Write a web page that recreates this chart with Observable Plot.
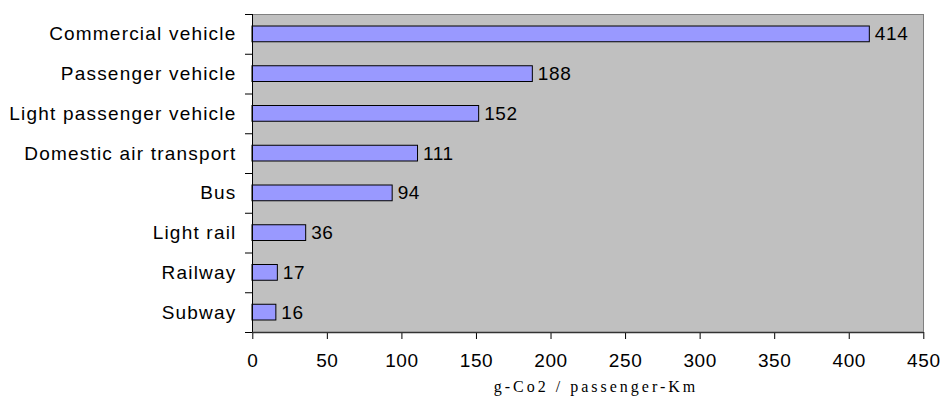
<!DOCTYPE html>
<html>
<head>
<meta charset="utf-8">
<script src="https://cdn.jsdelivr.net/npm/d3@7"></script>
<script src="https://cdn.jsdelivr.net/npm/@observablehq/plot@0.6"></script>
<style>
  html, body { margin: 0; padding: 0; background: #fff; }
  #chart svg { display: block; }
  #chart svg text { letter-spacing: 0.6px; }
  #chart svg text.cat-label { letter-spacing: 1.2px; }
  #chart svg text.axis-title { letter-spacing: 3px; }
</style>
</head>
<body>
<div id="chart"></div>
<script>
// CO2 emissions per passenger-kilometre by mode of transport
const categories = [
  "Commercial vehicle",
  "Passenger vehicle",
  "Light passenger vehicle",
  "Domestic air transport",
  "Bus",
  "Light rail",
  "Railway",
  "Subway"
];
const values = [414, 188, 152, 111, 94, 36, 17, 16];
const xTicks = [0, 50, 100, 150, 200, 250, 300, 350, 400, 450];
const xTitle = "g-Co2 / passenger-Km";

// one row per category; rows are placed on an index scale so that
// the category tick marks can sit on the band boundaries
const rows = categories.map((name, i) => ({name, value: values[i], i}));
const boundaries = d3.range(categories.length + 1);

const sans = "'Liberation Sans', Arial, sans-serif";

const chart = Plot.plot({
  width: 941,
  height: 405,
  marginLeft: 252,
  marginRight: 18,
  marginTop: 14,
  marginBottom: 73,
  style: {fontFamily: sans, fontSize: "19px", color: "#000", background: "#fff"},
  x: {domain: [0, 450], ticks: xTicks},
  y: {domain: [0, categories.length], range: [14, 332], label: null},
  marks: [
    Plot.frame({fill: "#c0c0c0", stroke: "#808080"}),
    Plot.rectX(rows, {
      x1: 0,
      x2: "value",
      y1: "i",
      y2: (d) => d.i + 1,
      insetTop: 12,
      insetBottom: 12,
      fill: "#9999ff",
      stroke: "#000",
      strokeWidth: 1
    }),
    Plot.text(rows, {
      x: "value",
      y: (d) => d.i + 0.5,
      text: (d) => String(d.value),
      textAnchor: "start",
      dx: 5,
      fontSize: 19,
      fill: "#000"
    }),
    Plot.text(rows, {
      x: 0,
      y: (d) => d.i + 0.5,
      text: "name",
      textAnchor: "end",
      dx: -16,
      fontSize: 19,
      className: "cat-label",
      fill: "#000"
    }),
    Plot.axisY({ticks: boundaries, tickSize: 7, tickFormat: () => "", label: null, stroke: "#000"}),
    Plot.axisX({
      ticks: xTicks,
      tickSize: 7,
      tickPadding: 14,
      fontSize: 19,
      dx: 0.3,
      label: null,
      stroke: "#000"
    }),
    Plot.ruleX([0], {stroke: "#000", strokeWidth: 1}),
    Plot.ruleY([categories.length], {stroke: "#333", strokeWidth: 1.5}),
    Plot.text([xTitle], {
      frameAnchor: "bottom",
      dy: 59,
      dx: 8,
      className: "axis-title",
      fontFamily: "'Liberation Serif', 'Times New Roman', serif",
      fontSize: 16,
      fill: "#000"
    })
  ]
});

// tag the individual text elements so the stylesheet can space them
chart.querySelectorAll("g.cat-label text").forEach((t) => t.classList.add("cat-label"));
chart.querySelectorAll("g.axis-title text").forEach((t) => t.classList.add("axis-title"));
document.getElementById("chart").appendChild(chart);
</script>
</body>
</html>
